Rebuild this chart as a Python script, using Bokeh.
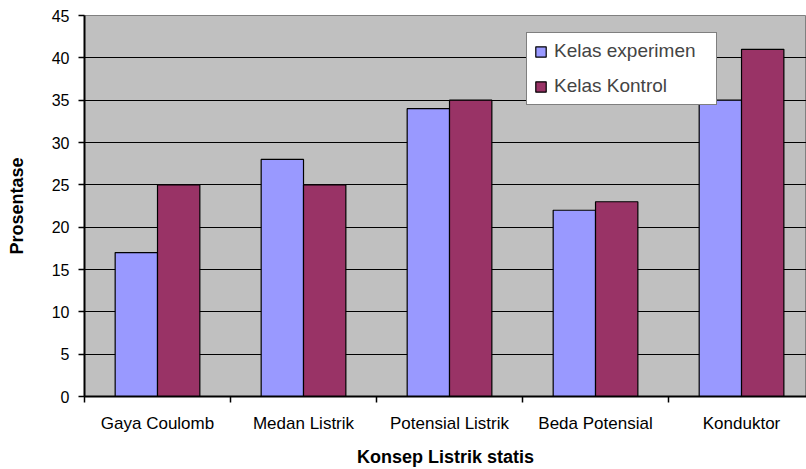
from bokeh.plotting import figure
from bokeh.models import FixedTicker, ColumnDataSource, Legend, LegendItem, Range1d
from bokeh.embed import file_html
from bokeh.resources import INLINE

categories = ["Gaya Coulomb", "Medan Listrik", "Potensial Listrik", "Beda Potensial", "Konduktor"]
experimen = [17, 28, 34, 22, 35]
kontrol = [25, 25, 35, 23, 41]
y_ticks = [0, 5, 10, 15, 20, 25, 30, 35, 40, 45]

n = len(categories)
centers = [i + 0.5 for i in range(n)]
bw = 0.29
src = ColumnDataSource(dict(
    xe=[c - bw / 2 for c in centers], xk=[c + bw / 2 for c in centers],
    e=experimen, k=kontrol))

W, H = 806, 469
p = figure(width=W, height=H, output_backend="svg", toolbar_location=None,
           x_range=Range1d(0, 4.945), y_range=Range1d(0, 45),
           min_border_left=84, min_border_right=0, min_border_top=15, min_border_bottom=73)
p.border_fill_color = "white"
p.background_fill_color = "#C0C0C0"
p.outline_line_color = "#808080"
p.outline_line_width = 1

r1 = p.vbar(x="xe", top="e", width=bw, bottom=0, source=src,
            fill_color="#9999FF", line_color="black", line_width=1.2)
r2 = p.vbar(x="xk", top="k", width=bw, bottom=0, source=src,
            fill_color="#993366", line_color="black", line_width=1.2)

font = "Liberation Sans"
# x axis
p.xaxis.ticker = FixedTicker(ticks=centers, minor_ticks=list(range(n + 1)))
p.xaxis.major_label_overrides = {c: lab for c, lab in zip(centers, categories)}
p.xaxis.major_tick_out = 0
p.xaxis.major_tick_in = 0
p.xaxis.minor_tick_out = 6
p.xaxis.minor_tick_in = 0
p.xaxis.minor_tick_line_color = "black"
p.xaxis.minor_tick_line_width = 1.5
p.xaxis.axis_line_color = "black"
p.xaxis.axis_line_width = 2
p.xaxis.major_label_text_font = font
p.xaxis.major_label_text_font_size = "17px"
p.xaxis.major_label_text_color = "black"
p.xaxis.major_label_standoff = 11
p.xaxis.axis_label = "Konsep Listrik statis"
p.xaxis.axis_label_text_font = font
p.xaxis.axis_label_text_font_style = "bold"
p.xaxis.axis_label_text_font_size = "18px"
p.xaxis.axis_label_standoff = 11
p.xaxis.axis_label_text_color = "black"

# y axis
p.yaxis.ticker = FixedTicker(ticks=y_ticks)
p.yaxis.minor_tick_line_color = None
p.yaxis.major_tick_out = 6
p.yaxis.major_tick_in = 0
p.yaxis.major_tick_line_color = "black"
p.yaxis.major_tick_line_width = 1.5
p.yaxis.axis_line_color = "black"
p.yaxis.axis_line_width = 2
p.yaxis.major_label_text_font = font
p.yaxis.major_label_text_font_size = "16px"
p.yaxis.major_label_text_color = "black"
p.yaxis.major_label_standoff = 9
p.yaxis.axis_label = "Prosentase"
p.yaxis.axis_label_text_font = font
p.yaxis.axis_label_text_font_style = "bold"
p.yaxis.axis_label_text_font_size = "18px"
p.yaxis.axis_label_standoff = 22
p.yaxis.axis_label_text_color = "black"

p.xgrid.grid_line_color = None
p.ygrid.ticker = FixedTicker(ticks=y_ticks)
p.ygrid.grid_line_color = "black"
p.ygrid.grid_line_width = 1.2

legend = Legend(items=[LegendItem(label="Kelas experimen", renderers=[r1]),
                       LegendItem(label="Kelas Kontrol", renderers=[r2])],
                location=(442, 291), margin=0, padding=7, spacing=13,
                glyph_width=13, glyph_height=13, label_height=20, label_width=155,
                label_standoff=7,
                label_text_font=font, label_text_font_size="19px",
                border_line_color="black", border_line_width=1.2,
                background_fill_color="white", background_fill_alpha=1)
p.add_layout(legend)

open("out.html", "w").write(file_html(p, INLINE))
